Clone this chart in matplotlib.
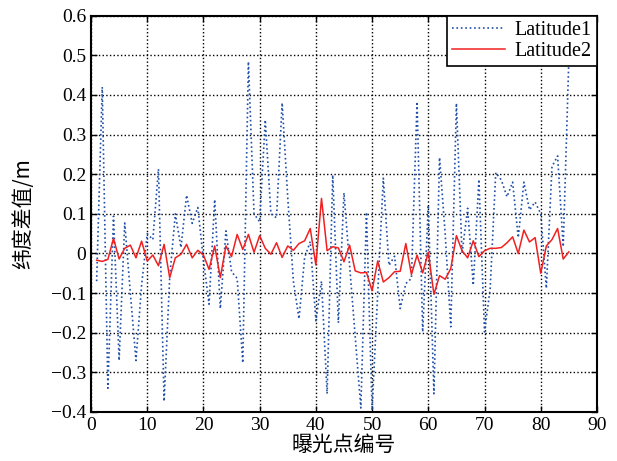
import matplotlib.pyplot as plt
import numpy as np

plt.rcParams['font.family'] = ['Liberation Serif', 'Noto Sans CJK SC']
plt.rcParams['mathtext.fontset'] = 'stix'

# Exposure point index
points = np.arange(1, 86)

# Latitude difference, first solution (blue dotted)
lat1 = [-0.07, 0.42, -0.34, 0.094, -0.27, 0.077, -0.10, -0.27, -0.08, 0.05,
        0.035, 0.213, -0.373, -0.06, 0.10, 0.015, 0.147, 0.076, 0.116, -0.017,
        -0.128, 0.136, -0.139, 0.057, -0.046, -0.063, -0.276, 0.484, 0.10, 0.08,
        0.337, 0.10, 0.09, 0.38, 0.14, -0.07, -0.165, -0.01, 0.03, -0.17,
        -0.07, -0.354, 0.198, -0.175, 0.153, -0.03, -0.21, -0.39, 0.104, -0.395,
        -0.10, 0.19, -0.03, -0.007, -0.139, -0.076, -0.063, 0.383, -0.198, 0.122,
        -0.354, 0.242, 0.05, -0.185, 0.379, 0.0, 0.114, -0.08, 0.187, -0.198,
        -0.09, 0.204, 0.185, 0.143, 0.18, 0.04, 0.18, 0.11, 0.13, 0.10,
        -0.088, 0.219, 0.246, 0.017, 0.49]

# Latitude difference, second solution (red solid)
lat2 = [-0.017, -0.02, -0.015, 0.038, -0.014, 0.013, 0.021, -0.011, 0.031, -0.019,
        -0.004, -0.031, 0.023, -0.061, -0.011, -0.002, 0.023, -0.011, 0.008, -0.004,
        -0.04, 0.019, -0.061, 0.019, -0.008, 0.048, 0.01, 0.048, 0.003, 0.045,
        0.013, -0.002, 0.027, -0.01, 0.019, 0.008, 0.025, 0.032, 0.063, -0.029,
        0.139, 0.007, 0.017, 0.014, -0.021, 0.021, -0.044, -0.049, -0.048, -0.094,
        -0.019, -0.072, -0.061, -0.046, -0.045, 0.025, -0.053, -0.004, -0.049, 0.003,
        -0.103, -0.056, -0.065, -0.038, 0.045, 0.007, -0.011, 0.032, -0.008, 0.007,
        0.013, 0.013, 0.015, 0.027, 0.042, 0.0, 0.059, 0.029, 0.04, -0.05,
        0.019, 0.035, 0.063, -0.014, 0.004]

xticks = np.arange(0, 91, 10)
yticks = np.round(np.arange(-0.4, 0.61, 0.1), 1)
ylabels = ['\u22120.4', '\u22120.3', '\u22120.2', '\u22120.1', '0',
           '0.1', '0.2', '0.3', '0.4', '0.5', '0.6']

fig = plt.figure(figsize=(6.17, 4.61), dpi=100)
ax = fig.add_axes([0.1475, 0.1063, 0.82, 0.8597])

ax.plot(points, lat1, color='#1f4fa8', linestyle=':', linewidth=1.2, label='Latitude1')
ax.plot(points, lat2, color='#f02020', linestyle='-', linewidth=1.1, label='Latitude2')

ax.set_xlim(0, 90)
ax.set_ylim(-0.4, 0.6)
ax.set_xticks(xticks)
ax.set_yticks(yticks)
ax.set_yticklabels(ylabels)
ax.tick_params(direction='in', top=True, right=True, labelsize=14, length=4, width=1)
ax.grid(True, color='black', linestyle=':', linewidth=1)
for sp in ax.spines.values():
    sp.set_linewidth(1.5)

ax.set_xlabel('曝光点编号', fontsize=15, family=['Noto Sans CJK SC'], labelpad=0)
ax.set_ylabel('纬度差值/m', fontsize=15, family=['Noto Sans CJK SC'], labelpad=12)

leg = ax.legend(loc='upper right', fontsize=14.5, fancybox=False, framealpha=1,
                edgecolor='black', borderpad=0.25, labelspacing=0.1,
                handlelength=2.6, handletextpad=0.5, borderaxespad=0)
leg.get_frame().set_linewidth(1.2)

fig.savefig('out.png', dpi=100)
